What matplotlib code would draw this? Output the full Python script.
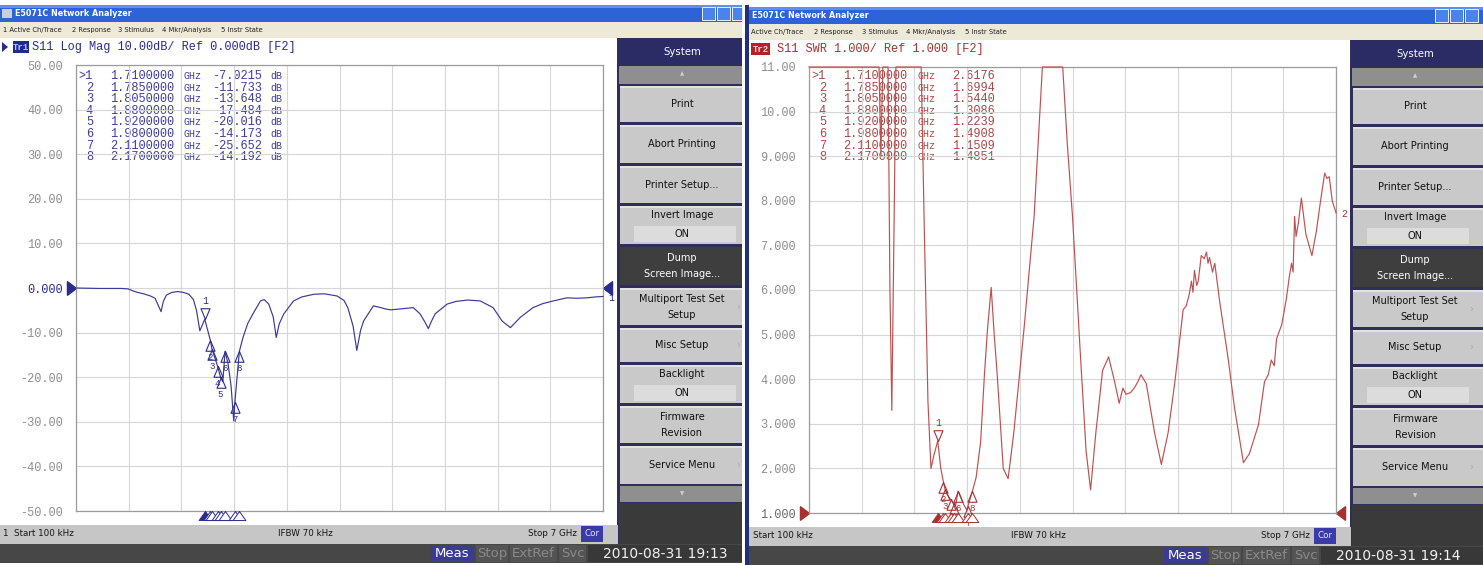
import numpy as np
import matplotlib
matplotlib.use("Agg")
import matplotlib.pyplot as plt
from matplotlib.patches import Rectangle, Polygon
from matplotlib.transforms import blended_transform_factory as blend

W, H = 1483, 565
MONO = "Liberation Mono"
SANS = "DejaVu Sans"

# marker table (same sweep shown in two formats)
marker_ids = ["1", "2", "3", "4", "5", "6", "7", "8"]
marker_ghz = [1.71, 1.785, 1.805, 1.88, 1.92, 1.98, 2.11, 2.17]
marker_db = [-7.0215, -11.733, -13.648, -17.484, -20.016, -14.173, -25.652, -14.192]
marker_swr = [2.6176, 1.6994, 1.5440, 1.3086, 1.2239, 1.4908, 1.1509, 1.4851]

# Tr1: S11 log mag in dB
logmag_ghz = [0.0001, 0.30, 0.60, 0.69, 0.75, 0.82, 0.90, 0.99, 1.05, 1.09,
              1.13, 1.16, 1.20, 1.27, 1.35, 1.43, 1.50, 1.56, 1.60, 1.645,
              1.71, 1.785, 1.805, 1.88, 1.92, 1.95, 1.98, 2.02, 2.06, 2.095,
              2.11, 2.17, 2.22, 2.28, 2.35, 2.45, 2.50, 2.56, 2.62, 2.66,
              2.70, 2.76, 2.89, 3.00, 3.16, 3.30, 3.47, 3.56, 3.61, 3.68,
              3.73, 3.78, 3.82, 3.95, 4.05, 4.11, 4.18, 4.30, 4.48, 4.57,
              4.63, 4.68, 4.72, 4.77, 4.93, 5.05, 5.20, 5.37, 5.54, 5.66,
              5.77, 5.90, 6.07, 6.20, 6.34, 6.52, 6.65, 6.79, 6.90, 7.00]
logmag_db = [0.0, -0.1, -0.1, -0.2, -0.6, -1.0, -1.3, -1.8, -2.3, -3.8,
             -5.3, -3.0, -1.6, -1.0, -0.8, -1.0, -1.4, -2.6, -5.0, -9.6,
             -7.02, -11.73, -13.65, -17.48, -20.02, -21.0, -14.17, -17.0, -22.0, -29.8,
             -25.65, -14.19, -11.0, -8.0, -5.8, -2.9, -2.6, -3.6, -6.5, -11.1,
             -8.0, -5.8, -2.9, -2.0, -1.4, -1.3, -1.8, -2.8, -4.4, -8.5,
             -14.0, -9.5, -7.4, -4.0, -4.4, -4.7, -4.9, -4.7, -4.4, -5.8,
             -7.5, -9.1, -7.5, -5.8, -3.6, -3.0, -2.7, -2.9, -4.4, -7.4,
             -8.9, -6.6, -4.4, -3.5, -2.9, -2.2, -2.3, -2.2, -2.0, -1.9]

# Tr2: S11 SWR (11.0 = pinned to the top of the graticule)
swr_ghz = [0.0001, 0.93, 0.955, 0.98, 1.05, 1.075, 1.10, 1.13, 1.155, 1.49,
           1.53, 1.58, 1.62, 1.66, 1.71, 1.75, 1.785, 1.805, 1.84, 1.88,
           1.92, 1.95, 1.98, 2.02, 2.06, 2.095, 2.11, 2.17, 2.22, 2.28,
           2.33, 2.37, 2.42, 2.46, 2.50, 2.58, 2.645, 2.72, 2.86, 2.99,
           3.10, 3.37, 3.43, 3.50, 3.61, 3.68, 3.74, 3.81, 3.90, 3.98,
           4.06, 4.12, 4.17, 4.21, 4.27, 4.32, 4.37, 4.41, 4.48, 4.59,
           4.68, 4.77, 4.86, 4.97, 5.01, 5.05, 5.08, 5.10, 5.12, 5.15,
           5.17, 5.21, 5.25, 5.28, 5.30, 5.32, 5.36, 5.39, 5.45, 5.57,
           5.65, 5.77, 5.85, 5.97, 6.05, 6.10, 6.14, 6.18, 6.21, 6.28,
           6.34, 6.38, 6.41, 6.43, 6.45, 6.47, 6.50, 6.54, 6.60, 6.68,
           6.74, 6.80, 6.85, 6.88, 6.91, 6.95, 7.00]
swr_val = [11.0, 11.0, 9.0, 11.0, 11.0, 6.0, 3.3, 7.5, 11.0, 11.0,
           7.5, 3.5, 2.0, 2.3, 2.6176, 2.0, 1.6994, 1.544, 1.4, 1.3086,
           1.2239, 1.19, 1.4908, 1.33, 1.17, 1.07, 1.1509, 1.4851, 1.8, 2.6,
           4.1, 5.1, 6.06, 5.0, 4.1, 2.0, 1.77, 2.8, 5.2, 7.65,
           11.0, 11.0, 9.3, 7.65, 4.4, 2.4, 1.52, 2.8, 4.2, 4.5,
           3.94, 3.46, 3.8, 3.66, 3.7, 3.8, 3.95, 4.1, 3.9, 2.8,
           2.09, 2.8, 3.94, 5.56, 5.64, 5.9, 6.2, 5.95, 6.44, 6.1,
           6.2, 6.77, 6.7, 6.85, 6.6, 6.73, 6.4, 6.6, 5.8, 4.43,
           3.38, 2.13, 2.33, 2.98, 3.94, 4.1, 4.43, 4.3, 4.9, 5.23,
           5.8, 6.3, 6.6, 6.4, 7.65, 7.2, 7.5, 8.06, 7.25, 6.77,
           7.33, 8.06, 8.62, 8.5, 8.54, 8.0, 7.73]

logmag_ticks = [50, 40, 30, 20, 10, 0, -10, -20, -30, -40, -50]
logmag_labels = ["50.00", "40.00", "30.00", "20.00", "10.00", "0.000",
                 "-10.00", "-20.00", "-30.00", "-40.00", "-50.00"]
swr_ticks = [11, 10, 9, 8, 7, 6, 5, 4, 3, 2, 1]
swr_labels = ["11.00", "10.00", "9.000", "8.000", "7.000", "6.000",
              "5.000", "4.000", "3.000", "2.000", "1.000"]

fig = plt.figure(figsize=(W / 100, H / 100), dpi=100)
bg = fig.add_axes([0, 0, 1, 1])
bg.set_xlim(0, W)
bg.set_ylim(H, 0)
bg.axis("off")


def box(x0, y0, x1, y1, fc, lo, hi, ec="none", lw=0.0):
    x0, x1 = max(x0, lo), min(x1, hi)
    if x1 > x0:
        bg.add_patch(Rectangle((x0, y0), x1 - x0, y1 - y0, fc=fc, ec=ec, lw=lw))


def txt(x, y, s, size=7, color="#151515", ha="left", family=SANS, **kw):
    bg.text(x, y, s, size=size, color=color, ha=ha, va="center",
            family=family, zorder=5, **kw)


keys = [(86, 122, ["Print"], None),
        (125, 163, ["Abort Printing"], None),
        (166, 203, ["Printer Setup..."], None),
        (206, 244, ["Invert Image"], "on"),
        (247, 285, ["Dump", "Screen Image..."], "dark"),
        (288, 325, ["Multiport Test Set", "Setup"], "sub"),
        (328, 362, ["Misc Setup"], "sub"),
        (365, 403, ["Backlight"], "on"),
        (406, 443, ["Firmware", "Revision"], None),
        (446, 484, ["Service Menu"], "sub")]


def frame(ox, oy, lo, hi, p):
    X = lambda v: ox + v
    Y = lambda v: oy + v
    # window title bar
    box(X(-20), Y(5), X(760), Y(22), "#2c63d6", lo, hi)
    box(X(-20), Y(5), X(760), Y(8), "#5c8fee", lo, hi)
    if p["icon"]:
        box(X(2), Y(9), X(12), Y(18), "#c8d0e0", lo, hi)
    txt(p["title_x"], Y(14), "E5071C Network Analyzer", size=5.8,
        color="white", weight="bold")
    for bx in (702, 717, 732):
        box(X(bx), Y(7), X(bx + 13), Y(20), "#4a84ea", lo, hi, ec="#e8eefc", lw=0.7)
    # menu bar
    box(X(-20), Y(22), X(760), Y(38), "#ece9d8", lo, hi)
    for mx, s in zip(p["menu_x"], p["menu"]):
        txt(mx, Y(30), s, size=4.9, color="#202020")
    # measurement window
    box(X(-20), Y(38), X(618), Y(525), "white", lo, hi)
    if p["icon"]:
        bg.add_patch(Polygon([(X(2), Y(42)), (X(8), Y(47)), (X(2), Y(52))],
                             closed=True, fc=p["color"], ec="none"))
    box(p["tr_x"][0], Y(41), p["tr_x"][1], Y(53), p["tr_fc"], lo, hi)
    txt((p["tr_x"][0] + p["tr_x"][1]) / 2, Y(47), p["tr"], size=6.5,
        color=p["tr_tc"], ha="center", family=MONO, weight="bold")
    txt(p["head_x"], Y(47), p["head"], size=8.6, color=p["color"], family=MONO)
    # marker table
    for i, (mid, f, v) in enumerate(zip(marker_ids, marker_ghz, p["mvals"])):
        yy = 76 + 11.6 * i
        tag = ">" + mid if i == 0 else mid
        txt(X(93), yy, tag, size=8.6, color=p["mcolor"], ha="right", family=MONO)
        txt(X(110), yy, f"{f:.7f}", size=8.6, color=p["mcolor"], family=MONO)
        txt(X(184), yy, "GHz", size=7.2, color=p["mcolor"], family=MONO)
        txt(X(262), yy, f"{v:#.5g}", size=8.6, color=p["mcolor"], ha="right", family=MONO)
        if p["unit"]:
            txt(X(270), yy, p["unit"], size=7.2, color=p["mcolor"], family=MONO)
    # softkey panel
    box(X(617), Y(38), X(760), Y(544), "#2e2e58", lo, hi)
    box(X(619), Y(39), X(760), Y(64), "#2b2b66", lo, hi)
    txt(X(682), Y(52), "System", size=7.3, color="white", ha="center")
    box(X(619), Y(66), X(760), Y(84), "#8f8f8f", lo, hi)
    txt(X(682), Y(74), "▲", size=4, color="#cfcfcf", ha="center")
    for y0, y1, lines, kind in keys:
        fc = "#3e3e3e" if kind == "dark" else "#c9c9c9"
        tc = "white" if kind == "dark" else "#101010"
        box(X(620), Y(y0), X(760), Y(y1), fc, lo, hi)
        if kind != "dark":
            box(X(620), Y(y0), X(760), Y(y0 + 1.5), "#e2e2e2", lo, hi)
        if kind == "on":
            txt(X(682), Y(y0 + 9), lines[0], size=7, color=tc, ha="center")
            box(X(634), Y(y0 + 20), X(736), Y(y0 + 36), "#dcdcdc", lo, hi)
            txt(X(682), Y(y0 + 28), "ON", size=7, color=tc, ha="center")
        elif len(lines) == 2:
            txt(X(682), Y(y0 + 11), lines[0], size=7, color=tc, ha="center")
            txt(X(682), Y(y0 + 27), lines[1], size=7, color=tc, ha="center")
        else:
            txt(X(682), Y((y0 + y1) / 2), lines[0], size=7, color=tc, ha="center")
        if kind == "sub":
            txt(X(738), Y((y0 + y1) / 2), "›", size=7, color="#a9a9a9", ha="center")
    box(X(620), Y(486), X(760), Y(502), "#8f8f8f", lo, hi)
    txt(X(682), Y(494), "▼", size=4, color="#cfcfcf", ha="center")
    box(X(619), Y(503), X(760), Y(544), "#3a3a3a", lo, hi)
    # channel status bar
    box(X(-20), Y(525), X(618), Y(544), "#c6c6c6", lo, hi)
    txt(p["start_x"], Y(534), p["start"], size=6.3)
    txt(X(305), Y(534), "IFBW 70 kHz", size=6.3, ha="center")
    txt(X(577), Y(534), "Stop 7 GHz", size=6.3, ha="right")
    box(X(581), Y(526), X(603), Y(542), "#3a3aa8", lo, hi)
    txt(X(592), Y(534), "Cor", size=6.3, color="#dfe4ff", ha="center")
    # instrument status bar
    box(X(-20), Y(544), X(760), Y(563), "#474747", lo, hi)
    box(X(431), Y(545), X(474), Y(562), "#3b3b95", lo, hi)
    txt(X(452.5), Y(553.5), "Meas", size=9.5, color="white", ha="center")
    for x0, x1, s in ((476, 508, "Stop"), (510, 557, "ExtRef"), (559, 586, "Svc")):
        box(X(x0), Y(545), X(x1), Y(562), "#545454", lo, hi)
        txt(X((x0 + x1) / 2), Y(553.5), s, size=9.5, color="#8a8a8a", ha="center")
    box(X(588), Y(545), X(760), Y(562), "#383838", lo, hi)
    txt(X(665), Y(553.5), p["stamp"], size=10, color="#f2f2f2", ha="center")
    # outer window border of the cropped screenshot
    if p["edge"]:
        box(lo, Y(3), lo + 3.5, H, "#1f2f7a", lo, hi)


def graph(ox, oy, ghz, vals, ticks, labels, ylim, mvals, p):
    c = p["color"]
    ax = fig.add_axes([(ox + 76) / W, 1 - (oy + 511) / H, 527 / W, 446 / H])
    ax.set_facecolor("none")
    ax.set_xlim(0, 7)
    ax.set_ylim(*ylim)
    ax.set_xticks(np.linspace(0, 7, 11))
    ax.set_yticks(ticks)
    ax.set_yticklabels(labels, family=MONO, size=8.6, color="#8e8e8e")
    ax.get_yticklabels()[ticks.index(p["ref"])].set_color(p["refc"])
    ax.tick_params(length=0, pad=9.4, labelbottom=False)
    ax.grid(color="#d6d6d6", lw=0.8)
    ax.set_axisbelow(True)
    for s in ax.spines.values():
        s.set_color("#9c9c9c")
        s.set_linewidth(0.9)
    ax.plot(ghz, vals, color=p["trace"], lw=0.85, clip_on=False, zorder=3)

    down = [(0, 0), (-0.42, 1), (0.42, 1), (0, 0)]
    up = [(0, 0), (-0.42, -1), (0.42, -1), (0, 0)]
    for i, (mid, f, v) in enumerate(zip(marker_ids, marker_ghz, mvals)):
        if i == 0:
            ax.plot([f], [v], marker=down, ms=15.5, mfc="none", mec=c, mew=0.8,
                    clip_on=False, zorder=4)
            ax.annotate(mid, (f, v), xytext=(0, 13), textcoords="offset points",
                        ha="center", va="center", size=7, color=c, family=MONO)
        else:
            ax.plot([f], [v], marker=up, ms=15.5, mfc="none", mec=c, mew=0.8,
                    clip_on=False, zorder=4)
            ax.annotate(mid, (f, v), xytext=(0, -12.5), textcoords="offset points",
                        ha="center", va="center", size=6.5, color=c, family=MONO)
    # marker position indicators under the graticule
    tb = blend(ax.transData, ax.transAxes)
    tri = [(0, 0), (-0.6, -0.85), (0.6, -0.85), (0, 0)]
    for i, f in enumerate(marker_ghz):
        ax.plot([f], [0], transform=tb, marker=tri, ms=13,
                mfc=c if i == 0 else "white", mec=c, mew=0.7, clip_on=False, zorder=4)
    # reference level arrows and trace number
    tl = blend(ax.transAxes, ax.transData)
    ax.plot([0], [p["ref"]], transform=tl, marker=[(0, 0), (-1, 0.75), (-1, -0.75), (0, 0)],
            ms=13, mfc=c, mec=c, clip_on=False)
    ax.plot([1], [p["ref"]], transform=tl, marker=[(0, 0), (1, 0.75), (1, -0.75), (0, 0)],
            ms=13, mfc=c, mec=c, clip_on=False)
    ax.annotate(p["tr"][-1], (ghz[-1], vals[-1]), xytext=(4, -1),
                textcoords="offset points", ha="left", va="center",
                size=7, color=c, family=MONO, annotation_clip=False)


left = dict(icon=True, edge=False, title_x=15, menu_x=[3, 72, 118, 162, 221],
            menu=["1 Active Ch/Trace", "2 Response", "3 Stimulus",
                  "4 Mkr/Analysis", "5 Instr State"],
            color="#2b2b8c", mcolor="#3d3d9e", trace="#3a3a96", tr="Tr1",
            tr_x=(12.7, 29.3), tr_fc="#1e2a8c", tr_tc="#b8c4ff", head_x=31.7,
            head="S11 Log Mag 10.00dB/ Ref 0.000dB [F2]", unit="dB",
            mvals=marker_db, start_x=3, start="1  Start 100 kHz",
            stamp="2010-08-31 19:13", ref=0, refc="#2b2b8c")
right = dict(icon=False, edge=True, title_x=752, menu_x=[751, 814, 862, 906, 965],
             menu=["Active Ch/Trace", "2 Response", "3 Stimulus",
                   "4 Mkr/Analysis", "5 Instr State"],
             color="#a83030", mcolor="#a54848", trace="#c05050", tr="Tr2",
             tr_x=(751, 770), tr_fc="#b52222", tr_tc="#ffd8d8", head_x=777,
             head="S11 SWR 1.000/ Ref 1.000 [F2]", unit="",
             mvals=marker_swr, start_x=753, start="Start 100 kHz",
             stamp="2010-08-31 19:14", ref=1, refc="#6a6a6a")

frame(733, 2, 745, W, right)
frame(0, 0, 0, 742, left)

graph(0, 0, logmag_ghz, logmag_db, logmag_ticks, logmag_labels, (-50, 50),
      marker_db, left)
graph(733, 2, swr_ghz, swr_val, swr_ticks, swr_labels, (1, 11),
      marker_swr, right)

fig.savefig("out.png", dpi=100)
